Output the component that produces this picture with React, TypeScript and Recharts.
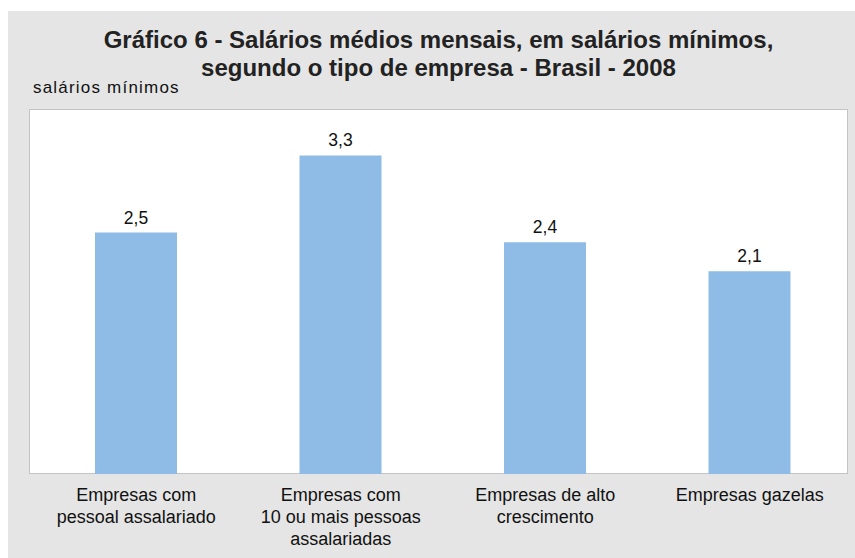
import { BarChart, Bar, XAxis, YAxis, LabelList } from 'recharts'

const categories = [
  'Empresas com\npessoal assalariado',
  'Empresas com\n10 ou mais pessoas\nassalariadas',
  'Empresas de alto\ncrescimento',
  'Empresas gazelas',
]
const salarios = [2.5, 3.3, 2.4, 2.1]

const data = categories.map((name, i) => ({ name, value: salarios[i] }))

const FONT = '"Liberation Sans", Arial, Helvetica, sans-serif'

function CategoryTick({ x, y, payload }: any) {
  const lines = String(payload.value).split('\n')
  return (
    <text x={x} y={y} textAnchor="middle" fill="#111" fontSize={18} fontFamily={FONT}>
      {lines.map((line, i) => (
        <tspan key={i} x={x} dy={i === 0 ? 19 : 22}>
          {line}
        </tspan>
      ))}
    </text>
  )
}

export default function App() {
  return (
    <div style={{ position: 'absolute', left: 0, top: 0, width: 855, height: 558, background: '#fff', fontFamily: FONT }}>
      <div style={{ position: 'absolute', left: 8, top: 11, right: 0, bottom: 0, background: '#e5e5e5' }} />
      <div
        style={{
          position: 'absolute',
          left: 29,
          top: 26,
          width: 819,
          textAlign: 'center',
          fontWeight: 'bold',
          fontSize: 24,
          lineHeight: '28px',
          color: '#222',
        }}
      >
        Gráfico 6 - Salários médios mensais, em salários mínimos,
        <br />
        segundo o tipo de empresa - Brasil - 2008
      </div>
      <div style={{ position: 'absolute', left: 33, top: 78, fontSize: 17, letterSpacing: 1.2, color: '#111' }}>
        salários mínimos
      </div>
      <div
        style={{
          position: 'absolute',
          left: 29,
          top: 109,
          width: 817,
          height: 363,
          background: '#fff',
          border: '1.5px solid #c4c4c4',
        }}
      />
      <div style={{ position: 'absolute', left: 0, top: 0 }}>
        <BarChart width={855} height={558} data={data} margin={{ top: 110, right: 3, bottom: 0, left: 34 }} barCategoryGap="30%">
          <XAxis dataKey="name" axisLine={false} tickLine={false} tick={<CategoryTick />} interval={0} height={84} />
          <YAxis hide domain={[0, 3.77]} />
          <Bar dataKey="value" fill="#8ebce6" barSize={82} isAnimationActive={false}>
            <LabelList
              dataKey="value"
              position="top"
              offset={9}
              formatter={(v: any) => String(v).replace('.', ',')}
              style={{ fill: '#111', fontSize: 17.5, fontFamily: FONT }}
            />
          </Bar>
        </BarChart>
      </div>
    </div>
  )
}
